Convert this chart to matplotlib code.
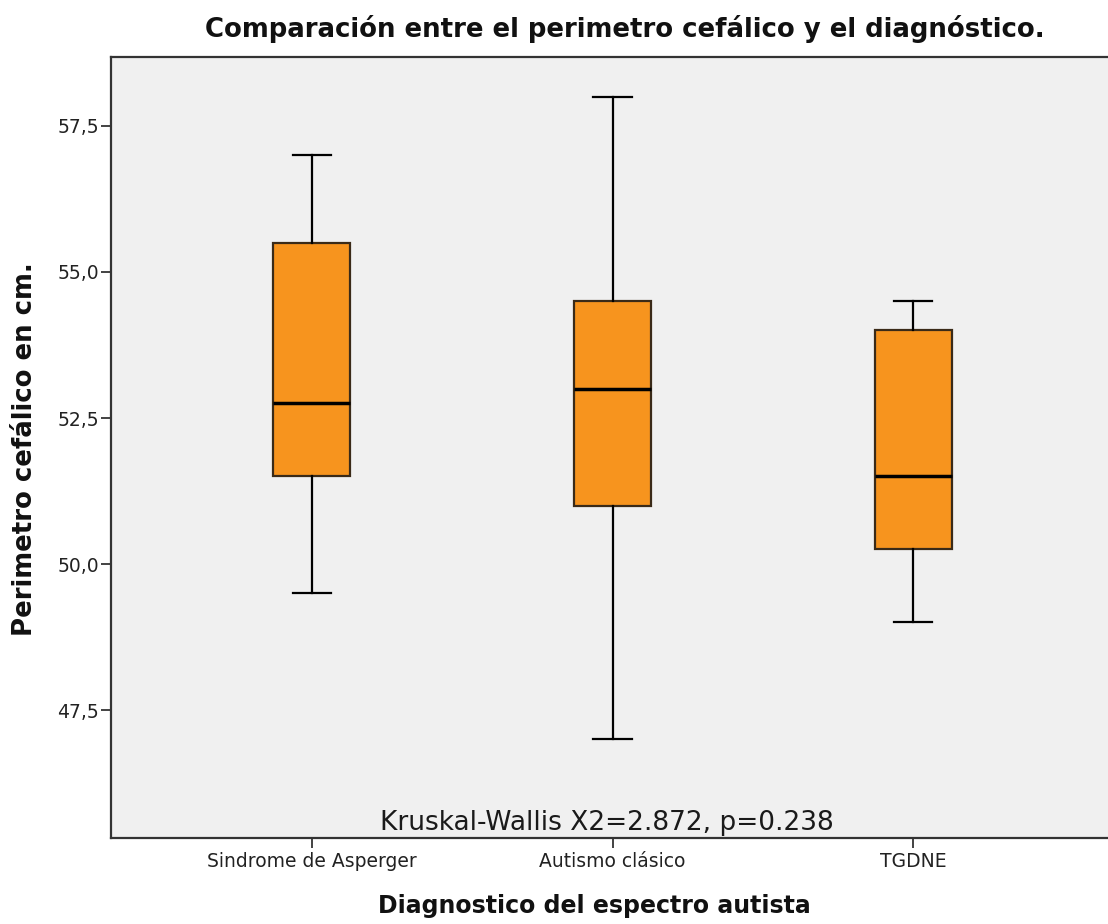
import matplotlib
matplotlib.use("Agg")
import matplotlib.pyplot as plt

# cuartiles y bigotes por grupo diagnostico
grupos = ["Sindrome de Asperger", "Autismo clásico", "TGDNE"]
bigote_inf = [49.5, 47.0, 49.0]
q1 = [51.5, 51.0, 50.25]
mediana = [52.75, 53.0, 51.5]
q3 = [55.5, 54.5, 54.0]
bigote_sup = [57.0, 58.0, 54.5]
yticks = [47.5, 50.0, 52.5, 55.0, 57.5]

plt.rcParams['font.family'] = ['DejaVu Sans']

fig = plt.figure(figsize=(11.08, 9.24), dpi=100)
W, H = 1108, 924
ax = fig.add_axes([111 / W, 1 - 838 / H, (1114 - 111) / W, (838 - 57) / H])
ax.set_facecolor("#f0f0f0")

stats = []
for i, g in enumerate(grupos):
    stats.append(dict(label=g, whislo=bigote_inf[i], q1=q1[i], med=mediana[i],
                      q3=q3[i], whishi=bigote_sup[i], fliers=[]))

ax.bxp(stats, positions=[1, 2, 3], widths=0.255, patch_artist=True,
       showfliers=False,
       boxprops=dict(facecolor="#f7941e", edgecolor="#3a2a18", linewidth=1.6),
       medianprops=dict(color="black", linewidth=2.5),
       whiskerprops=dict(color="black", linewidth=1.6),
       capprops=dict(color="black", linewidth=1.6),
       capwidths=0.127)

ax.set_xlim(0.333, 3.667)
ax.set_ylim(45.31, 58.68)
ax.set_yticks(yticks)
ax.set_yticklabels([f"{v:.1f}".replace(".", ",") for v in yticks], fontsize=13.5,
                   color="#222222")
ax.set_xticks([1, 2, 3])
ax.set_xticklabels(grupos, fontsize=13.5, color="#222222")
ax.tick_params(axis="y", direction="out", length=7, width=1.2, pad=1.5, color="#222222")
ax.tick_params(axis="x", direction="out", length=7, width=1.2, pad=3, color="#222222")

for s in ax.spines.values():
    s.set_linewidth(1.6)
    s.set_color("#333333")

ax.text(1.98, 0.0102, "Kruskal-Wallis X2=2.872, p=0.238", ha="center", va="baseline",
        fontsize=19, color="#1a1a1a", transform=ax.get_xaxis_transform())

fig.text(625 / W, 1 - 37 / H, "Comparación entre el perimetro cefálico y el diagnóstico.",
         ha="center", va="baseline", fontsize=18.7, fontweight="bold", color="#111111")
fig.text(25 / W, 1 - 449 / H, "Perimetro cefálico en cm.", rotation=90,
         ha="center", va="center", fontsize=18.7, fontweight="bold", color="#111111")
fig.text(594 / W, 1 - 913 / H, "Diagnostico del espectro autista",
         ha="center", va="baseline", fontsize=17, fontweight="bold", color="#111111")

fig.savefig("out.png", dpi=100)
